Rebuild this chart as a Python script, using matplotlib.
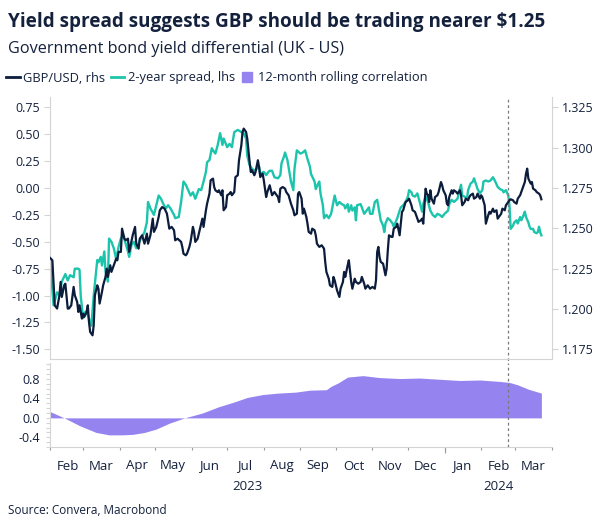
import matplotlib
matplotlib.use('Agg')
import matplotlib.pyplot as plt
import matplotlib.dates as mdates
import pandas as pd
from matplotlib.ticker import MultipleLocator, FixedLocator, FormatStrFormatter, NullFormatter
from matplotlib.lines import Line2D

plt.rcParams['font.family'] = ['Open Sans', 'DejaVu Sans']
plt.rcParams['axes.unicode_minus'] = False

NAVY = '#0c1d3c'
TEAL = '#1cc4ac'
PURPLE = '#9584ef'
TEXT = '#14213d'
GRID = '#d4d4d4'

# all series are indexed by days since 1 Feb 2023
START = pd.Timestamp('2023-02-01')

# 2-year UK-US yield spread (lhs, pp)
spread_days = [0, 3, 6, 8, 10, 13, 15, 17, 20, 21, 24, 25, 26, 28, 30, 32, 34, 35, 37, 40,
               41, 43, 44, 46, 47, 49, 50, 52, 54, 56, 58, 60, 62, 66, 67, 69, 71, 73, 77, 80,
               82, 83, 85, 88, 90, 92, 94, 96, 98, 100, 102, 105, 106, 109, 111, 113, 115, 117, 119, 121,
               123, 125, 126, 128, 130, 132, 133, 135, 137, 138, 140, 142, 144, 146, 147, 150, 152, 154, 156, 159,
               162, 164, 166, 167, 169, 171, 173, 175, 177, 178, 181, 183, 185, 186, 188, 190, 193, 195, 196, 198,
               199, 201, 203, 204, 206, 207, 209, 211,
               212, 214, 216, 218, 220, 221, 224, 225, 227, 228, 229, 231, 232, 234, 236, 238, 240, 241, 243, 245,
               247, 249, 250, 252, 253, 255, 256, 258, 259, 260, 263, 265, 266, 268, 270, 271, 273, 275, 277, 279,
               280, 282, 283, 284, 286, 288, 290, 291, 294, 296, 297, 299, 301, 303, 304, 306, 307, 309, 311, 313,
               315, 316, 318, 320, 322, 324, 326, 328, 330, 332, 334, 337, 338, 340, 342, 345, 347, 348, 349, 351,
               353, 354, 356, 358, 359, 362, 364, 366, 367, 369, 371, 373, 375, 377, 379, 381, 383, 384, 386, 388,
               389, 390, 392, 393, 395, 396, 398, 399, 401, 402, 403, 405, 406, 407, 409, 410, 412, 413, 414, 415,
               416]
spread_vals = [-0.66, -1.09, -0.97, -1.00, -0.87, -0.80, -0.86, -0.81, -0.83, -0.75,
               -0.75, -0.76, -1.00, -1.21, -1.15, -1.18, -1.25, -1.28, -1.00, -0.67,
               -0.69, -0.64, -0.72, -0.59, -0.78, -0.87, -0.47, -0.50, -0.56, -0.66,
               -0.55, -0.47, -0.44, -0.59, -0.64, -0.53, -0.50, -0.56, -0.47, -0.41,
               -0.32, -0.13, -0.19, -0.25, -0.16, -0.07, -0.10, -0.15, -0.19, -0.16,
               -0.19, -0.25, -0.28, -0.27, -0.13, 0.06, 0.03, -0.02, -0.07, -0.04,
               -0.10, -0.04, -0.01, -0.02, 0.06, 0.15, 0.24, 0.26, 0.37, 0.35,
               0.32, 0.40, 0.51, 0.40, 0.46, 0.38, 0.41, 0.38, 0.52, 0.54,
               0.52, 0.51, 0.46, 0.30, 0.21, 0.18, 0.16, 0.18, 0.20, 0.13,
               0.15, 0.12, 0.15, 0.16, 0.16, 0.10, 0.09, 0.12, 0.23, 0.29,
               0.33, 0.26, 0.13, 0.06, -0.02, 0.18, 0.35, 0.33,
               0.32, 0.33, 0.35, 0.27, 0.20, 0.13, 0.06, -0.01, 0.04, 0.06,
               -0.05, -0.16, -0.28, -0.25, -0.28, -0.24, -0.13, -0.07, -0.16, -0.13,
               -0.15, -0.16, -0.19, -0.15, -0.22, -0.16, -0.21, -0.18, -0.30, -0.16,
               -0.15, -0.21, -0.24, -0.21, -0.18, -0.24, -0.24, -0.13, -0.11, -0.24,
               -0.30, -0.35, -0.41, -0.33, -0.28, -0.30, -0.33, -0.36, -0.28, -0.21,
               -0.18, -0.16, -0.13, -0.08, -0.02, -0.04, -0.07, -0.08, -0.05, -0.13,
               -0.22, -0.15, -0.08, -0.13, -0.21, -0.25, -0.27, -0.24, -0.25, -0.27,
               -0.24, -0.21, -0.15, -0.11, -0.13, -0.10, -0.01, 0.03, -0.07, -0.08,
               -0.10, -0.02, 0.04, 0.06, 0.09, -0.01, -0.05, -0.02, 0.06, 0.07,
               0.06, 0.07, 0.10, 0.06, 0.01, -0.01, -0.02, -0.04, -0.02, -0.07,
               -0.16, -0.38, -0.35, -0.32, -0.30, -0.33, -0.27, -0.30, -0.25, -0.22,
               -0.27, -0.32, -0.36, -0.38, -0.38, -0.41, -0.42, -0.41, -0.36, -0.41,
               -0.44]

# GBP/USD (rhs)
gbp_days = [0, 2, 3, 4, 6, 8, 9, 10, 12, 13, 15, 16, 18, 20, 21, 23, 24, 25, 27, 28,
            29, 31, 32, 33, 34, 36, 37, 38, 40, 41, 42, 44, 45, 47, 48, 49, 51, 52, 54, 56,
            57, 58, 60, 61, 63, 64, 66, 67, 68, 70, 72, 73, 75, 76, 78, 80, 82, 83, 85, 87,
            88, 90, 92, 93, 95, 97, 99, 101, 103, 105, 106, 108, 111, 112, 113, 115, 116, 118, 119, 121,
            122, 123, 125, 126, 128, 129, 130, 132, 133, 135, 136, 138, 139, 140, 142, 143, 145, 146, 147, 149,
            150, 152, 153, 154, 156, 157, 159, 160, 162, 163, 164, 166, 167, 169, 170, 171, 173, 174, 176, 177,
            178, 180, 181, 183, 184, 186, 187, 188, 190, 191, 193, 194, 195, 197, 199, 200, 202, 204, 206, 207,
            209, 210, 211,
            213, 214, 215, 217, 218, 219, 221, 222, 224, 225, 226, 228, 230, 232, 233, 234, 236, 237, 239, 240,
            241, 243, 245, 246, 248, 249, 250, 252, 253, 255, 256, 258, 259, 261, 263, 264, 266, 267, 269, 271,
            273, 275, 276, 277, 278, 279, 280, 282, 284, 285, 286, 287, 289, 290, 291, 293, 294, 296, 297, 298,
            299, 301, 303, 304, 306, 307, 309, 311, 312, 314, 315, 316, 318, 319, 320, 321, 322, 323, 325, 326,
            328, 329, 331, 332, 333, 335, 336, 337, 338, 340, 341, 342, 344, 345, 347, 348, 349, 351, 352, 354,
            355, 356, 358, 359, 361, 362, 364, 365, 366, 368, 369, 371, 372, 373, 375, 376, 378, 379, 381, 382,
            383, 385, 386, 388, 389, 390, 392, 393, 395, 396, 398, 399, 400, 402, 403, 404, 405, 407, 408, 409,
            411, 412, 414, 415, 416]
gbp_vals = [1.2317, 1.2302, 1.2168, 1.2023, 1.2003, 1.2085, 1.2168, 1.2075, 1.2147, 1.2157,
            1.2003, 1.2003, 1.2023, 1.2137, 1.2085, 1.2044, 1.1982, 1.2023, 1.1941, 1.1972,
            1.1951, 1.1982, 1.2023, 1.1920, 1.1858, 1.1837, 1.1899, 1.2085, 1.2147, 1.2126,
            1.2034, 1.2106, 1.2147, 1.2199, 1.2250, 1.2199, 1.2271, 1.2230, 1.2271, 1.2312,
            1.2302, 1.2354, 1.2354, 1.2498, 1.2436, 1.2426, 1.2436, 1.2354, 1.2385, 1.2457,
            1.2509, 1.2405, 1.2374, 1.2436, 1.2457, 1.2405, 1.2467, 1.2405, 1.2457, 1.2560,
            1.2478, 1.2509, 1.2571, 1.2612, 1.2632, 1.2622, 1.2591, 1.2498, 1.2509, 1.2488,
            1.2426, 1.2436, 1.2416, 1.2385, 1.2343, 1.2333, 1.2343, 1.2385, 1.2416, 1.2509,
            1.2478, 1.2416, 1.2436, 1.2467, 1.2529, 1.2560, 1.2509, 1.2612, 1.2653, 1.2715,
            1.2798, 1.2808, 1.2756, 1.2736, 1.2725, 1.2736, 1.2705, 1.2736, 1.2612, 1.2632,
            1.2705, 1.2715, 1.2725, 1.2705, 1.2725, 1.2818, 1.2829, 1.2922, 1.3015, 1.3097,
            1.3118, 1.3097, 1.3056, 1.2911, 1.2849, 1.2860, 1.2829, 1.2849, 1.2922, 1.2880,
            1.2818, 1.2839, 1.2798, 1.2694, 1.2725, 1.2767, 1.2736, 1.2705, 1.2725, 1.2715,
            1.2694, 1.2663, 1.2746, 1.2756, 1.2746, 1.2725, 1.2705, 1.2653, 1.2612, 1.2581,
            1.2591, 1.2715, 1.2725,
            1.2684, 1.2591, 1.2622, 1.2571, 1.2529, 1.2478, 1.2467, 1.2498, 1.2488, 1.2457,
            1.2405, 1.2385, 1.2395, 1.2374, 1.2292, 1.2230, 1.2188, 1.2147, 1.2137, 1.2199,
            1.2178, 1.2116, 1.2075, 1.2126, 1.2168, 1.2230, 1.2199, 1.2271, 1.2302, 1.2168,
            1.2126, 1.2188, 1.2168, 1.2157, 1.2168, 1.2199, 1.2157, 1.2126, 1.2147, 1.2126,
            1.2137, 1.2126, 1.2178, 1.2354, 1.2385, 1.2323, 1.2292, 1.2281, 1.2209, 1.2250,
            1.2364, 1.2457, 1.2447, 1.2447, 1.2498, 1.2509, 1.2529, 1.2457, 1.2529, 1.2602,
            1.2612, 1.2663, 1.2674, 1.2684, 1.2643, 1.2612, 1.2602, 1.2560, 1.2540, 1.2550,
            1.2560, 1.2529, 1.2746, 1.2715, 1.2705, 1.2663, 1.2736, 1.2684, 1.2653, 1.2694,
            1.2705, 1.2725, 1.2787, 1.2767, 1.2736, 1.2705, 1.2653, 1.2643, 1.2694, 1.2736,
            1.2715, 1.2736, 1.2725, 1.2715, 1.2736, 1.2705, 1.2643, 1.2663, 1.2684, 1.2674,
            1.2694, 1.2705, 1.2715, 1.2684, 1.2694, 1.2715, 1.2684, 1.2705, 1.2694, 1.2643,
            1.2529, 1.2581, 1.2602, 1.2591, 1.2622, 1.2602, 1.2612, 1.2560, 1.2581, 1.2591,
            1.2622, 1.2612, 1.2643, 1.2663, 1.2674, 1.2680, 1.2674, 1.2663, 1.2653, 1.2684,
            1.2705, 1.2725, 1.2746, 1.2787, 1.2839, 1.2870, 1.2808, 1.2777, 1.2787, 1.2746,
            1.2736, 1.2725, 1.2715, 1.2705, 1.2680]

# 12-month rolling correlation
corr_days = [0, 12, 25, 39, 50, 61, 70, 80, 90, 101, 114, 129, 143, 155, 167, 180, 193, 208,
             220, 234, 238, 244, 252, 265, 279, 296, 313, 333, 347, 364, 381, 389, 396, 405, 416]
corr_vals = [0.13, 0.0, -0.16, -0.30, -0.35, -0.35, -0.34, -0.30, -0.23, -0.11, 0.0, 0.10,
             0.23, 0.32, 0.42, 0.48, 0.51, 0.53, 0.57, 0.58, 0.65, 0.72, 0.84, 0.87, 0.83,
             0.81, 0.82, 0.79, 0.77, 0.78, 0.75, 0.73, 0.68, 0.59, 0.51]

marker_date = pd.Timestamp('2024-02-24')
x_end = pd.Timestamp('2024-04-01')

title = 'Yield spread suggests GBP should be trading nearer $1.25'
subtitle = 'Government bond yield differential (UK - US)'
labels = ['GBP/USD, rhs', '2-year spread, lhs', '12-month rolling correlation']


def to_dates(days):
    return START + pd.to_timedelta(days, unit='D')


W, H = 604, 529
fig = plt.figure(figsize=(W / 100, H / 100), dpi=100)

# main panel
ax = fig.add_axes([50 / W, 1 - 358.5 / H, 502 / W, 261.5 / H])
ax.plot(to_dates(spread_days), spread_vals, color=TEAL, lw=1.7, solid_joinstyle='round')
ax.set_ylim(-1.585, 0.846)
ax.set_xlim(START, x_end)
ax.yaxis.set_major_locator(FixedLocator([0.75, 0.5, 0.25, 0, -0.25, -0.5, -0.75, -1.0, -1.25, -1.5]))
ax.yaxis.set_major_formatter(FormatStrFormatter('%.2f'))
ax.tick_params(axis='y', length=4.3, width=0.8, color=GRID, labelcolor=TEXT, labelsize=9, pad=3)
ax.tick_params(axis='x', bottom=False, labelbottom=False)
for s in ['top', 'right']:
    ax.spines[s].set_visible(False)
for s in ['left', 'bottom']:
    ax.spines[s].set_color(GRID)
    ax.spines[s].set_linewidth(0.8)

ax2 = ax.twinx()
ax2.plot(to_dates(gbp_days), gbp_vals, color=NAVY, lw=1.6, solid_joinstyle='round')
lo, hi = ax.get_ylim()
ax2.set_ylim(1.325 + (lo - 0.75) / 15, 1.325 + (hi - 0.75) / 15)
ax2.yaxis.set_major_locator(FixedLocator([1.175, 1.2, 1.225, 1.25, 1.275, 1.3, 1.325]))
ax2.yaxis.set_major_formatter(FormatStrFormatter('%.3f'))
ax2.tick_params(axis='y', length=4.3, width=0.8, color=GRID, labelcolor=TEXT, labelsize=9, pad=3)
for s in ['top', 'left', 'bottom']:
    ax2.spines[s].set_visible(False)
ax2.spines['right'].set_color(GRID)
ax2.spines['right'].set_linewidth(0.8)
ax.axvline(marker_date, ymin=-0.03, ymax=1, color='#7a7a7a', lw=0.9, ls=(0, (2.2, 2.2)), clip_on=False)

# correlation panel
axc = fig.add_axes([50 / W, 1 - 447 / H, 502 / W, 84 / H])
axc.fill_between(to_dates(corr_days), corr_vals, 0, color=PURPLE, lw=0)
axc.set_xlim(START, x_end)
axc.set_ylim(-0.6, 1.13)
axc.yaxis.set_major_locator(FixedLocator([-0.4, 0.0, 0.4, 0.8]))
axc.yaxis.set_minor_locator(MultipleLocator(0.1))
axc.yaxis.set_major_formatter(FormatStrFormatter('%.1f'))
axc.tick_params(axis='y', which='both', length=3, width=0.8, color=GRID, labelcolor=TEXT,
                labelsize=9, pad=4)
axc.xaxis.set_major_locator(mdates.MonthLocator())
axc.xaxis.set_major_formatter(NullFormatter())
axc.xaxis.set_minor_locator(mdates.MonthLocator(bymonthday=16))
axc.xaxis.set_minor_formatter(mdates.DateFormatter('%b'))
axc.tick_params(axis='x', which='major', length=2.2, width=0.8, color='#9a9a9a')
axc.tick_params(axis='x', which='minor', length=0, labelcolor=TEXT, labelsize=9.5, pad=9)
for s in ['top', 'right']:
    axc.spines[s].set_visible(False)
for s in ['left', 'bottom']:
    axc.spines[s].set_color(GRID)
    axc.spines[s].set_linewidth(0.8)
axc.axvline(marker_date, color='#7a7a7a', lw=0.9, ls=(0, (2.2, 2.2)))

# longer tick at the year boundary + year labels
jan = pd.Timestamp('2024-01-01')
sec = axc.secondary_xaxis('bottom')
sec.set_xticks([mdates.date2num(jan)])
sec.tick_params(length=4, width=0.8, color='#9a9a9a', labelbottom=False)
sec.spines['bottom'].set_visible(False)
for yr, a, b in [('2023', START, jan), ('2024', jan, x_end)]:
    mid = a + (b - a) / 2
    axc.text(mdates.date2num(mid), -0.465, yr, transform=axc.get_xaxis_transform(),
             ha='center', va='center', fontsize=9.5, color=TEXT)

# titles
fig.text(8 / W, 1 - 22 / H, title, fontsize=13.6, weight='bold', color=TEXT, va='center')
fig.text(8 / W, 1 - 49 / H, subtitle, fontsize=11.7, color=TEXT, va='center')

handles = [Line2D([], [], color=NAVY, lw=2),
           Line2D([], [], color=TEAL, lw=2),
           Line2D([], [], color=PURPLE, marker='s', ls='none', ms=6.5)]
fig.legend(handles, labels, loc='center left', bbox_to_anchor=(6 / W, 1 - 78 / H), ncol=3,
           frameon=False, handlelength=1.05, handletextpad=0.3, columnspacing=0.4,
           borderaxespad=0, borderpad=0, fontsize=9.3, labelcolor=TEXT)

fig.text(8 / W, 1 - 511 / H, 'Source: Convera, Macrobond', fontsize=8.5, color=TEXT, va='center')

fig.savefig('out.png', dpi=100)
